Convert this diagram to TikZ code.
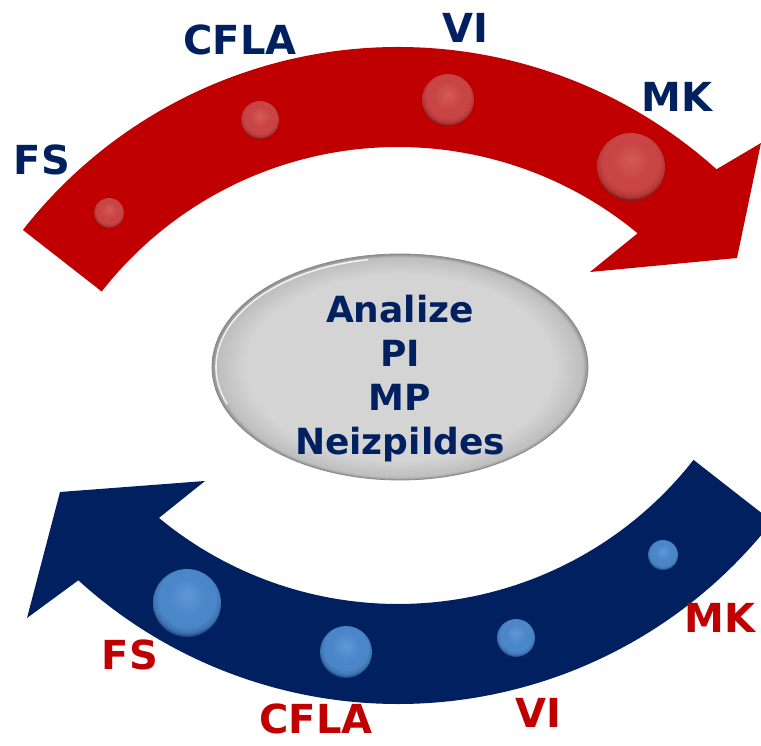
\documentclass[tikz,border=0pt]{standalone}
\usepackage{fontspec}
\setmainfont{DejaVu Sans}
\usetikzlibrary{calc,shapes.geometric}
\definecolor{arrred}{HTML}{C00000}
\definecolor{arrblue}{HTML}{002060}
\definecolor{rbA}{HTML}{D45A5A}
\definecolor{rbB}{HTML}{C94444}
\definecolor{rbC}{HTML}{B23636}
\definecolor{rbD}{HTML}{7A1E1E}
\definecolor{bbA}{HTML}{5E98D6}
\definecolor{bbB}{HTML}{4A86C8}
\definecolor{bbC}{HTML}{3D72B2}
\definecolor{bbD}{HTML}{22467A}
\definecolor{elA}{HTML}{D4D4D4}
\definecolor{elB}{HTML}{BEBEBE}
\definecolor{elC}{HTML}{8C8C8C}
\pgfdeclareradialshading{redballsh}{\pgfpoint{0bp}{6bp}}{color(0bp)=(rbA); color(14bp)=(rbB); color(21bp)=(rbB); color(25bp)=(rbC); color(27bp)=(rbD); color(50bp)=(rbD)}
\pgfdeclareradialshading{blueballsh}{\pgfpoint{0bp}{6bp}}{color(0bp)=(bbA); color(14bp)=(bbB); color(21bp)=(bbB); color(25bp)=(bbC); color(27bp)=(bbD); color(50bp)=(bbD)}
\pgfdeclareradialshading{ellsh}{\pgfpoint{0bp}{0bp}}{color(0bp)=(elA); color(20.5bp)=(elA); color(24.3bp)=(elB); color(25bp)=(elC); color(50bp)=(elC)}
\begin{document}
\begin{tikzpicture}[x=1pt,y=1pt,
  navylbl/.style={text=arrblue, font=\bfseries\fontsize{40}{48}\selectfont, anchor=base, inner sep=0pt},
  redlbl/.style={text=arrred, font=\bfseries\fontsize{40}{48}\selectfont, anchor=base, inner sep=0pt},
  redball/.style={circle, shade, shading=redballsh, minimum size=#1, inner sep=0pt},
  blueball/.style={circle, shade, shading=blueballsh, minimum size=#1, inner sep=0pt},
  centertext/.style={text=arrblue, font=\bfseries\fontsize{36}{44}\selectfont, align=center, inner sep=0pt}]
\useasboundingbox (0,0) rectangle (761,745);
\clip (0,0) rectangle (761,745);
\coordinate (rc) at (398,222);
\coordinate (bc) at (398,516);
% red arrow
\fill[arrred] ($(rc)+(142:476pt)$) arc[start angle=142,end angle=48,radius=476pt]
  -- (761,602) -- (737,487) -- (590,473)
  -- ($(rc)+(50.4:376pt)$) arc[start angle=50.4,end angle=142,radius=376pt] -- cycle;
% blue arrow
\fill[arrblue] ($(bc)+(-38:475pt)$) arc[start angle=-38,end angle=-132.3,radius=475pt]
  -- (27,127) -- (60,253) -- (205,264)
  -- ($(bc)+(-129.6:375pt)$) arc[start angle=-129.6,end angle=-38,radius=375pt] -- cycle;
% red balls
\node[redball=30pt] (rball1) at (109,532) {};
\node[redball=38pt] (rball2) at (260,625) {};
\node[redball=52pt] (rball3) at (448,645) {};
\node[redball=68pt] (rball4) at (631,578) {};
% blue balls
\node[blueball=68pt] (bball1) at (187,142) {};
\node[blueball=52pt] (bball2) at (346,93) {};
\node[blueball=38pt] (bball3) at (516,107) {};
\node[blueball=30pt] (bball4) at (663,190) {};
% ellipse
\node[ellipse, minimum width=376pt, minimum height=226pt, inner sep=0pt, shade, shading=ellsh, draw=elC, line width=0.8pt] (ell) at (400,378) {};
\draw[white, opacity=0.8, line width=1.6pt] ($(ell.center)+(100:184pt and 109pt)$) arc[start angle=100, end angle=200, x radius=184pt, y radius=109pt];
\node[centertext] (ctext) at (400,366.5) {Analize\\PI\\MP\\Neizpildes};
% labels on red arrow
\node[navylbl] (rfs) at (42,570) {FS};
\node[navylbl] (rcfla) at (240,690) {CFLA};
\node[navylbl] (rvi) at (465,702) {VI};
\node[navylbl] (rmk) at (677,633) {MK};
% labels on blue arrow
\node[redlbl] (bfs) at (130,75) {FS};
\node[redlbl] (bcfla) at (316,12) {CFLA};
\node[redlbl] (bvi) at (538,18) {VI};
\node[redlbl] (bmk) at (720,112) {MK};
\end{tikzpicture}
\end{document}
